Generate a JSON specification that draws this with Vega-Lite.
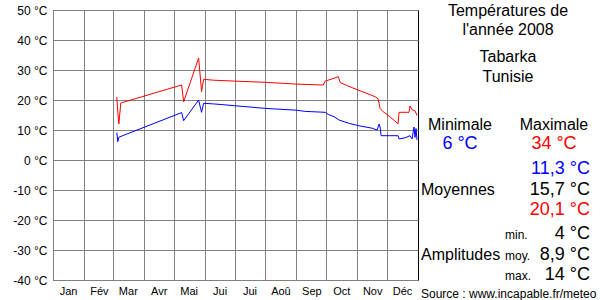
{
  "$schema": "https://vega.github.io/schema/vega-lite/v6.json",
  "background": "white",
  "padding": {"left": 2, "top": 3, "right": 0, "bottom": 0},
  "spacing": 0,
  "config": {"font": "Liberation Sans"},
  "resolve": {"scale": {"color": "independent", "size": "independent"}},
  "datasets": {
    "temperatures": [
      {"date": "2008-03-05", "serie": "Maximale", "temp": 21},
      {"date": "2008-03-06", "serie": "Maximale", "temp": 16},
      {"date": "2008-03-07", "serie": "Maximale", "temp": 12},
      {"date": "2008-03-09", "serie": "Maximale", "temp": 19},
      {"date": "2008-03-11", "serie": "Maximale", "temp": 19.2},
      {"date": "2008-05-09", "serie": "Maximale", "temp": 25},
      {"date": "2008-05-11", "serie": "Maximale", "temp": 19.4},
      {"date": "2008-05-26", "serie": "Maximale", "temp": 34},
      {"date": "2008-05-29", "serie": "Maximale", "temp": 22.8},
      {"date": "2008-05-31", "serie": "Maximale", "temp": 26.9},
      {"date": "2008-06-10", "serie": "Maximale", "temp": 26.6},
      {"date": "2008-07-01", "serie": "Maximale", "temp": 26.3},
      {"date": "2008-08-01", "serie": "Maximale", "temp": 25.9},
      {"date": "2008-09-01", "serie": "Maximale", "temp": 25.3},
      {"date": "2008-09-28", "serie": "Maximale", "temp": 25.0},
      {"date": "2008-09-30", "serie": "Maximale", "temp": 26.3},
      {"date": "2008-10-12", "serie": "Maximale", "temp": 27.6},
      {"date": "2008-10-13", "serie": "Maximale", "temp": 27.9},
      {"date": "2008-10-15", "serie": "Maximale", "temp": 25.8},
      {"date": "2008-10-27", "serie": "Maximale", "temp": 24.1},
      {"date": "2008-11-13", "serie": "Maximale", "temp": 21.9},
      {"date": "2008-11-19", "serie": "Maximale", "temp": 21.1},
      {"date": "2008-11-22", "serie": "Maximale", "temp": 20.4},
      {"date": "2008-11-24", "serie": "Maximale", "temp": 17.2},
      {"date": "2008-11-27", "serie": "Maximale", "temp": 16.1},
      {"date": "2008-12-01", "serie": "Maximale", "temp": 15.2},
      {"date": "2008-12-12", "serie": "Maximale", "temp": 12.1},
      {"date": "2008-12-13", "serie": "Maximale", "temp": 15.9},
      {"date": "2008-12-23", "serie": "Maximale", "temp": 15.9},
      {"date": "2008-12-24", "serie": "Maximale", "temp": 18},
      {"date": "2008-12-26", "serie": "Maximale", "temp": 16.8},
      {"date": "2008-12-29", "serie": "Maximale", "temp": 16.4},
      {"date": "2008-12-31", "serie": "Maximale", "temp": 14.8},
      {"date": "2008-03-05", "serie": "Minimale", "temp": 9.1},
      {"date": "2008-03-06", "serie": "Minimale", "temp": 6.1},
      {"date": "2008-03-07", "serie": "Minimale", "temp": 7.6},
      {"date": "2008-05-09", "serie": "Minimale", "temp": 15.8},
      {"date": "2008-05-11", "serie": "Minimale", "temp": 13.1},
      {"date": "2008-05-26", "serie": "Minimale", "temp": 20},
      {"date": "2008-05-29", "serie": "Minimale", "temp": 15.9},
      {"date": "2008-05-31", "serie": "Minimale", "temp": 18.9},
      {"date": "2008-06-10", "serie": "Minimale", "temp": 18.7},
      {"date": "2008-07-01", "serie": "Minimale", "temp": 18.1},
      {"date": "2008-08-01", "serie": "Minimale", "temp": 17.2},
      {"date": "2008-09-01", "serie": "Minimale", "temp": 16.6},
      {"date": "2008-09-10", "serie": "Minimale", "temp": 16.2},
      {"date": "2008-09-30", "serie": "Minimale", "temp": 15.9},
      {"date": "2008-10-03", "serie": "Minimale", "temp": 15.2},
      {"date": "2008-10-09", "serie": "Minimale", "temp": 14.4},
      {"date": "2008-10-14", "serie": "Minimale", "temp": 13.3},
      {"date": "2008-10-24", "serie": "Minimale", "temp": 12.2},
      {"date": "2008-11-03", "serie": "Minimale", "temp": 11.4},
      {"date": "2008-11-16", "serie": "Minimale", "temp": 10.6},
      {"date": "2008-11-21", "serie": "Minimale", "temp": 10.0},
      {"date": "2008-11-23", "serie": "Minimale", "temp": 12.0},
      {"date": "2008-11-24", "serie": "Minimale", "temp": 11.0},
      {"date": "2008-11-25", "serie": "Minimale", "temp": 8.1},
      {"date": "2008-12-12", "serie": "Minimale", "temp": 8.1},
      {"date": "2008-12-13", "serie": "Minimale", "temp": 7.0},
      {"date": "2008-12-19", "serie": "Minimale", "temp": 7.4},
      {"date": "2008-12-24", "serie": "Minimale", "temp": 8.1},
      {"date": "2008-12-26", "serie": "Minimale", "temp": 7.0},
      {"date": "2008-12-28", "serie": "Minimale", "temp": 11},
      {"date": "2008-12-29", "serie": "Minimale", "temp": 7.5},
      {"date": "2008-12-30", "serie": "Minimale", "temp": 10.5},
      {"date": "2008-12-31", "serie": "Minimale", "temp": 6.7}
    ],
    "resume": [
      {"texte": "Températures de", "ligne": 0, "colonne": 4, "role": "titre", "serie": "autre"},
      {"texte": "l'année 2008", "ligne": 1, "colonne": 4, "role": "titre", "serie": "autre"},
      {"texte": "Tabarka", "ligne": 2, "colonne": 4, "role": "titre", "serie": "autre"},
      {"texte": "Tunisie", "ligne": 3, "colonne": 4, "role": "titre", "serie": "autre"},
      {"texte": "Minimale", "ligne": 4, "colonne": 2, "role": "titre", "serie": "autre"},
      {"texte": "Maximale", "ligne": 4, "colonne": 5, "role": "titre", "serie": "autre"},
      {"texte": "6 °C", "ligne": 5, "colonne": 2, "role": "valeur", "serie": "min"},
      {"texte": "34 °C", "ligne": 5, "colonne": 5, "role": "valeur", "serie": "max"},
      {"texte": "11,3 °C", "ligne": 6, "colonne": 6, "role": "valeur", "serie": "min"},
      {"texte": "Moyennes", "ligne": 7, "colonne": 1, "role": "titre", "serie": "autre"},
      {"texte": "15,7 °C", "ligne": 7, "colonne": 6, "role": "valeur", "serie": "autre"},
      {"texte": "20,1 °C", "ligne": 8, "colonne": 6, "role": "valeur", "serie": "max"},
      {"texte": "min.", "ligne": 9, "colonne": 3, "role": "note", "serie": "autre"},
      {"texte": "4 °C", "ligne": 9, "colonne": 6, "role": "valeur", "serie": "autre"},
      {"texte": "Amplitudes", "ligne": 10, "colonne": 1, "role": "titre", "serie": "autre"},
      {"texte": "moy.", "ligne": 10, "colonne": 3, "role": "note", "serie": "autre"},
      {"texte": "8,9 °C", "ligne": 10, "colonne": 6, "role": "valeur", "serie": "autre"},
      {"texte": "max.", "ligne": 11, "colonne": 3, "role": "note", "serie": "autre"},
      {"texte": "14 °C", "ligne": 11, "colonne": 6, "role": "valeur", "serie": "autre"},
      {"texte": "Source : www.incapable.fr/meteo", "ligne": 12, "colonne": 1, "role": "note", "serie": "autre"}
    ]
  },
  "hconcat": [
    {
      "width": 365,
      "height": 270,
      "data": {"name": "temperatures"},
      "view": {"stroke": "black", "strokeWidth": 1},
      "mark": {"type": "line", "strokeWidth": 1, "clip": true},
      "encoding": {
        "x": {
          "field": "date",
          "type": "temporal",
          "scale": {
            "type": "utc",
            "domain": [
              {"year": 2008, "month": 1, "date": 1, "utc": true},
              {"year": 2009, "month": 1, "date": 1, "utc": true}
            ]
          },
          "axis": {
            "title": null,
            "values": [
              {"year": 2008, "month": 1, "date": 1, "utc": true},
              {"year": 2008, "month": 2, "date": 1, "utc": true},
              {"year": 2008, "month": 3, "date": 1, "utc": true},
              {"year": 2008, "month": 4, "date": 1, "utc": true},
              {"year": 2008, "month": 5, "date": 1, "utc": true},
              {"year": 2008, "month": 6, "date": 1, "utc": true},
              {"year": 2008, "month": 7, "date": 1, "utc": true},
              {"year": 2008, "month": 8, "date": 1, "utc": true},
              {"year": 2008, "month": 9, "date": 1, "utc": true},
              {"year": 2008, "month": 10, "date": 1, "utc": true},
              {"year": 2008, "month": 11, "date": 1, "utc": true},
              {"year": 2008, "month": 12, "date": 1, "utc": true}
            ],
            "labelExpr": "['Jan','Fév','Mar','Avr','Mai','Jui','Jui','Aoû','Sep','Oct','Nov','Déc'][utcmonth(datum.value)]",
            "grid": true,
            "gridColor": "#808080",
            "gridOpacity": 1,
            "gridWidth": 1,
            "ticks": false,
            "domain": false,
            "labelOffset": 15,
            "labelAlign": "center",
            "labelPadding": 5,
            "labelFontSize": 11,
            "labelFont": "Liberation Sans",
            "labelColor": "black",
            "labelFlush": false,
            "labelOverlap": false,
            "labelBound": false
          }
        },
        "y": {
          "field": "temp",
          "type": "quantitative",
          "scale": {"domain": [-40, 50], "nice": false, "zero": false},
          "axis": {
            "title": null,
            "values": [-40, -30, -20, -10, 0, 10, 20, 30, 40, 50],
            "labelExpr": "datum.value + ' °C'",
            "grid": true,
            "gridColor": "#808080",
            "gridOpacity": 1,
            "gridWidth": 1,
            "ticks": false,
            "domain": false,
            "labelPadding": 6,
            "labelFontSize": 12,
            "labelFont": "Liberation Sans",
            "labelColor": "black",
            "labelFlush": false,
            "labelOverlap": false,
            "minExtent": 50,
            "maxExtent": 50
          }
        },
        "color": {
          "field": "serie",
          "type": "nominal",
          "scale": {"domain": ["Maximale", "Minimale"], "range": ["#ff0000", "#0000ff"]},
          "legend": null
        }
      }
    },
    {
      "width": 181,
      "height": 290,
      "data": {"name": "resume"},
      "view": {"stroke": null},
      "encoding": {
        "y": {
          "field": "ligne",
          "type": "quantitative",
          "scale": {
            "domain": [0, 1, 2, 3, 4, 5, 6, 7, 8, 9, 10, 11, 12],
            "range": [6, 25, 52, 72, 120, 139, 164, 185, 205, 229, 250, 270, 288],
            "nice": false,
            "zero": false
          },
          "axis": null
        },
        "x": {
          "field": "colonne",
          "type": "quantitative",
          "scale": {
            "domain": [1, 2, 3, 4, 5, 6],
            "range": [2, 41, 86, 89, 135, 171],
            "nice": false,
            "zero": false
          },
          "axis": null
        },
        "text": {"field": "texte", "type": "nominal"},
        "color": {
          "field": "serie",
          "type": "nominal",
          "scale": {"domain": ["min", "max", "autre"], "range": ["#0000ff", "#ff0000", "#000000"]},
          "legend": null
        },
        "size": {
          "field": "role",
          "type": "nominal",
          "scale": {"type": "ordinal", "domain": ["titre", "valeur", "note"], "range": [16, 18, 12]},
          "legend": null
        }
      },
      "layer": [
        {
          "transform": [{"filter": "datum.colonne == 2 || datum.colonne == 4 || datum.colonne == 5"}],
          "mark": {"type": "text", "align": "center", "baseline": "alphabetic", "font": "Liberation Sans"}
        },
        {
          "transform": [{"filter": "datum.colonne == 1 || datum.colonne == 3"}],
          "mark": {"type": "text", "align": "left", "baseline": "alphabetic", "font": "Liberation Sans"}
        },
        {
          "transform": [{"filter": "datum.colonne == 6"}],
          "mark": {"type": "text", "align": "right", "baseline": "alphabetic", "font": "Liberation Sans"}
        }
      ]
    }
  ]
}
